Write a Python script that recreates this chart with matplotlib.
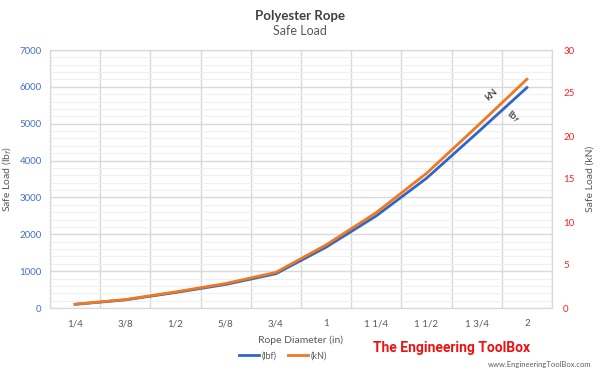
import matplotlib
matplotlib.use("Agg")
import matplotlib.pyplot as plt
from matplotlib.ticker import MultipleLocator
from matplotlib.lines import Line2D

categories = ["1/4", "3/8", "1/2", "5/8", "3/4", "1", "1 1/4", "1 1/2", "1 3/4", "2"]
load_lbf = [100, 220, 420, 640, 930, 1650, 2500, 3520, 4740, 5980]
load_kN = [0.44, 0.98, 1.87, 2.85, 4.14, 7.34, 11.1, 15.66, 21.08, 26.6]

plt.rcParams['font.family'] = ['Lato', 'DejaVu Sans']

blue = "#2F66C8"
orange = "#F07820"
gray_txt = "#595959"

fig = plt.figure(figsize=(6, 3.72), dpi=100)
ax = fig.add_axes([50/600, 1-308/372, 502/600, 258/372])
ax2 = ax.twinx()

x = list(range(len(categories)))
ax.plot(x, load_lbf, color=blue, lw=2, zorder=3)
ax2.plot(x, load_kN, color=orange, lw=2, zorder=3)

ax.set_xlim(-0.5, 9.5)
ax.set_ylim(0, 7000)
ax2.set_ylim(0, 30)
ax.set_xticks(x)
ax.set_xticklabels(categories)
ax.set_xticks([i + 0.5 for i in range(-1, 10)], minor=True)
ax.yaxis.set_major_locator(MultipleLocator(1000))
ax.yaxis.set_minor_locator(MultipleLocator(200))
ax2.yaxis.set_major_locator(MultipleLocator(5))

ax.grid(which='major', axis='y', color='#D9D9D9', lw=1)
ax.grid(which='minor', axis='y', color='#F0F0F0', lw=0.8)
ax.grid(which='minor', axis='x', color='#D9D9D9', lw=1)
ax.set_axisbelow(True)

for a in (ax, ax2):
    for s in a.spines.values():
        s.set_color('#D9D9D9')
    a.tick_params(which='both', length=0)

ax.tick_params(axis='y', labelcolor='#4472C4', labelsize=7, pad=6)
ax2.tick_params(axis='y', labelcolor='#FF2020', labelsize=7, pad=8)
ax.tick_params(axis='x', labelcolor=gray_txt, labelsize=7, pad=8)

ax.set_ylabel("Safe Load (lb$_f$)", color=gray_txt, fontsize=7.5, labelpad=4)
ax2.set_ylabel("Safe Load (kN)", color=gray_txt, fontsize=7.5, labelpad=8)
ax.set_xlabel("Rope Diameter (in)", color=gray_txt, fontsize=7.5, labelpad=5)

fig.text(0.5, 1-16/372, "Polyester Rope", ha='center', va='center', fontsize=9.5,
         fontweight='bold', color='#404040')
fig.text(0.5, 1-31/372, "Safe Load", ha='center', va='center', fontsize=9, color=gray_txt)

ax.text(8.3, 5800, "kN", rotation=42, fontsize=7.5, ha='center', va='center', color='#202020')
ax.text(8.72, 5180, "lb$_f$", rotation=-35, fontsize=7.5, ha='center', va='center', color='#202020')

handles = [Line2D([0], [0], color=blue, lw=2), Line2D([0], [0], color=orange, lw=2)]
fig.legend(handles, ["(lbf)", "(kN)"], loc='center', bbox_to_anchor=(283/600, 1-356/372),
           ncol=2, frameon=False, fontsize=6.5, handlelength=2.2, columnspacing=1.2,
           handletextpad=0.3, labelcolor=gray_txt)

fig.text(452/600, 1-348/372, "The Engineering ToolBox", ha='center', va='center',
         fontsize=10, fontweight='bold', color='#EE1111',
         family=['Roboto', 'DejaVu Sans'])
fig.text(592/600, 1-365/372, "www.EngineeringToolBox.com", ha='right', va='center',
         fontsize=5.5, color='#606060')

fig.savefig("out.png", dpi=100)
